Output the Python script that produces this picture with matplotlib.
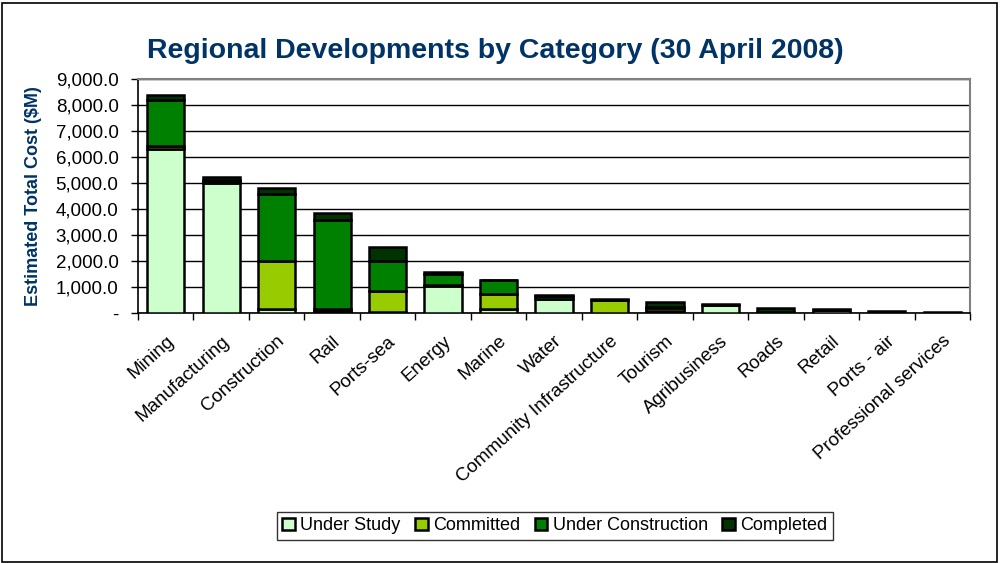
"""Regional developments by category, stacked bars."""

import matplotlib
matplotlib.use("Agg")
import matplotlib.pyplot as plt
from matplotlib.patches import Rectangle
from matplotlib.ticker import FuncFormatter, FixedLocator
import numpy as np

categories = [
    "Mining", "Manufacturing", "Construction", "Rail", "Ports-sea", "Energy",
    "Marine", "Water", "Community Infrastructure", "Tourism", "Agribusiness",
    "Roads", "Retail", "Ports - air", "Professional services",
]
under_study = [6300, 5000, 140, 60, 30, 1040, 150, 530, 0, 80, 310, 0, 100, 0, 20]
committed = [120, 60, 1860, 80, 830, 50, 565, 0, 500, 100, 0, 0, 0, 0, 0]
under_construction = [1770, 60, 2590, 3430, 1140, 400, 540, 110, 0, 60, 0, 30, 0, 0, 0]
completed = [190, 110, 200, 260, 530, 100, 30, 50, 30, 190, 20, 150, 50, 90, 30]

series = [
    ("Under Study", under_study, "#CCFFCC"),
    ("Committed", committed, "#99CC00"),
    ("Under Construction", under_construction, "#008000"),
    ("Completed", completed, "#003300"),
]

navy = "#003366"
plt.rcParams["font.family"] = ["Liberation Sans", "DejaVu Sans"]

fig = plt.figure(figsize=(10, 5.63), dpi=100)
ax = fig.add_axes([0.138, 0.444, 0.832, 0.416])

x = np.arange(len(categories))
bottom = np.zeros(len(categories))
for name, vals, color in series:
    vals = np.array(vals, dtype=float)
    ax.bar(x, vals, bottom=bottom, width=0.67, color=color, edgecolor="black",
           linewidth=1.8, label=name, zorder=3)
    bottom += vals

ax.set_xlim(-0.5, len(categories) - 0.5)
ax.set_ylim(0, 9000)
ax.set_yticks(np.arange(0, 9001, 1000))
ax.yaxis.set_major_formatter(
    FuncFormatter(lambda v, p: "-" if v == 0 else f"{v:,.1f}"))
ax.grid(axis="y", color="black", linewidth=1.0, zorder=0)
ax.tick_params(axis="y", labelsize=13.5, length=5, width=1, direction="out", pad=9)

ax.set_xticks(x)
ax.set_xticklabels(categories, rotation=42, ha="right", rotation_mode="anchor",
                   fontsize=13.5)
ax.tick_params(axis="x", which="major", length=0, pad=14)
ax.xaxis.set_minor_locator(FixedLocator(np.arange(-0.5, len(categories), 1.0)))
ax.tick_params(axis="x", which="minor", length=5, width=1, direction="out")

for side in ("left", "bottom"):
    ax.spines[side].set_color("black")
    ax.spines[side].set_linewidth(1.2)
for side in ("top", "right"):
    ax.spines[side].set_color("#808080")
    ax.spines[side].set_linewidth(1.5)

ax.set_ylabel("Estimated Total Cost ($M)", fontsize=13, fontweight="bold",
              color=navy, labelpad=10)

fig.text(0.495, 0.91, "Regional Developments by Category (30 April 2008)",
         ha="center", va="center", fontsize=20.5, fontweight="bold", color=navy)

leg = fig.legend(loc="center", bbox_to_anchor=(0.555, 0.066), ncol=4,
                 fontsize=13, frameon=True, fancybox=False, handlelength=0.7,
                 handleheight=0.7, handletextpad=0.3, columnspacing=0.8,
                 borderpad=0.3)
leg.get_frame().set_edgecolor("black")
leg.get_frame().set_linewidth(1.0)

fig.patches.append(Rectangle((0.002, 0.002), 0.995, 0.992, transform=fig.transFigure,
                             fill=False, edgecolor="black", linewidth=1.2))

fig.savefig("out.png", dpi=100)
